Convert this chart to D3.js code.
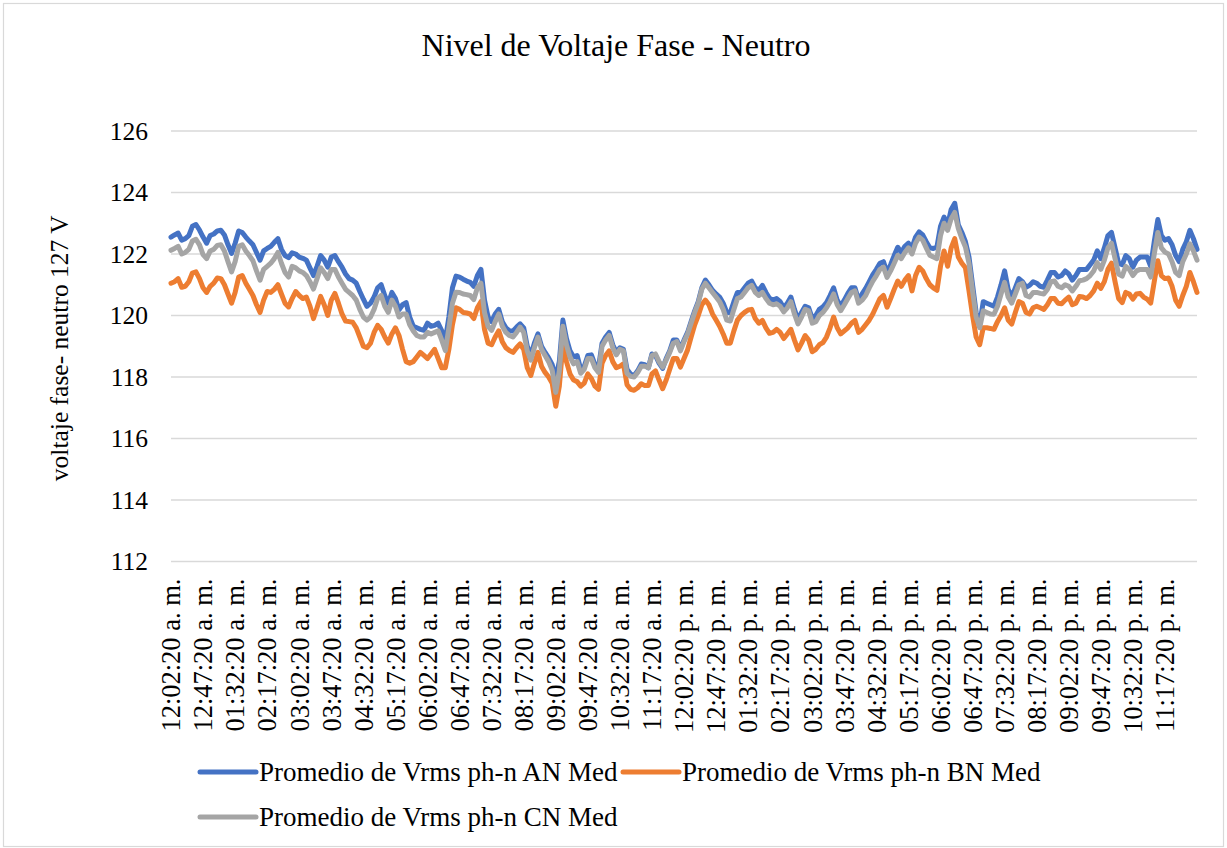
<!DOCTYPE html>
<html><head><meta charset="utf-8">
<script src="https://cdn.jsdelivr.net/npm/d3@7"></script>
<style>
html,body{margin:0;padding:0;background:#fff;}
svg{display:block;font-family:"Liberation Serif","Times New Roman",serif;}
</style></head>
<body>
<svg id="chart" width="1227" height="848"></svg>
<script>
const title = "Nivel de Voltaje Fase - Neutro";
const yTitle = "voltaje fase- neutro 127 V";
const seriesNames = ["Promedio de Vrms ph-n AN Med","Promedio de Vrms ph-n BN Med","Promedio de Vrms ph-n CN Med"];
const seriesColors = ["#4472C4","#ED7D31","#A5A5A5"];
const yTicks = [112,114,116,118,120,122,124,126];
const tickEvery = 9;
const tickLabels = ["12:02:20 a. m.","12:47:20 a. m.","01:32:20 a. m.","02:17:20 a. m.","03:02:20 a. m.","03:47:20 a. m.","04:32:20 a. m.","05:17:20 a. m.","06:02:20 a. m.","06:47:20 a. m.","07:32:20 a. m.","08:17:20 a. m.","09:02:20 a. m.","09:47:20 a. m.","10:32:20 a. m.","11:17:20 a. m.","12:02:20 p. m.","12:47:20 p. m.","01:32:20 p. m.","02:17:20 p. m.","03:02:20 p. m.","03:47:20 p. m.","04:32:20 p. m.","05:17:20 p. m.","06:02:20 p. m.","06:47:20 p. m.","07:32:20 p. m.","08:17:20 p. m.","09:02:20 p. m.","09:47:20 p. m.","10:32:20 p. m.","11:17:20 p. m."];

const AN = [
122.55,122.62,122.68,122.45,122.5,122.6,122.9,122.96,122.78,
122.55,122.35,122.6,122.65,122.75,122.77,122.62,122.3,122.02,
122.35,122.75,122.7,122.55,122.42,122.3,122.05,121.8,122.1,
122.18,122.25,122.38,122.5,122.15,121.95,121.88,122.04,122.0,
121.9,121.86,121.8,121.55,121.3,121.6,121.95,121.8,121.57,
121.9,121.95,121.75,121.57,121.35,121.2,121.15,121.05,120.78,
120.53,120.3,120.4,120.6,120.9,121.0,120.65,120.4,120.75,
120.55,120.18,120.35,120.42,119.95,119.65,119.6,119.55,119.52,
119.75,119.65,119.68,119.75,119.5,119.2,119.95,120.9,121.28,
121.25,121.18,121.12,121.08,120.95,121.3,121.5,120.5,119.95,
119.8,120.05,120.2,119.8,119.6,119.5,119.5,119.62,119.73,
119.6,119.0,118.7,119.1,119.4,119.0,118.8,118.62,118.4,
117.95,118.5,119.85,119.25,118.85,118.65,118.7,118.25,118.35,
118.7,118.72,118.4,118.3,119.1,119.3,119.45,119.05,118.8,
118.95,118.9,118.25,118.1,118.05,118.2,118.42,118.4,118.3,
118.75,118.7,118.45,118.28,118.6,118.85,119.2,119.2,118.92,
119.2,119.45,119.8,120.15,120.45,120.9,121.15,121.0,120.82,
120.7,120.6,120.4,120.1,120.1,120.45,120.75,120.75,120.9,
121.05,121.12,120.9,120.82,120.98,120.75,120.56,120.5,120.55,
120.45,120.25,120.4,120.6,120.2,119.86,120.1,120.3,120.25,
119.9,120.0,120.2,120.28,120.42,120.65,120.9,120.5,120.3,
120.5,120.72,120.9,120.9,120.5,120.7,120.88,121.1,121.33,
121.5,121.7,121.75,121.4,121.65,121.95,122.22,122.05,122.25,
122.35,122.2,122.55,122.72,122.62,122.4,122.2,122.18,122.23,
122.9,123.2,122.93,123.45,123.65,122.95,122.7,122.4,121.9,
121.0,120.1,119.7,120.45,120.4,120.35,120.3,120.6,121.0,
121.45,120.85,120.6,120.9,121.2,121.1,120.92,120.98,121.1,
121.05,120.95,120.92,121.15,121.4,121.4,121.25,121.3,121.45,
121.35,121.15,121.3,121.5,121.5,121.5,121.65,121.8,122.1,
121.85,122.2,122.6,122.7,122.2,121.7,121.65,121.95,121.85,
121.57,121.8,121.9,121.9,121.9,121.6,122.4,123.12,122.6,
122.45,122.5,122.3,121.95,121.75,122.15,122.4,122.77,122.5,
122.15];

const BN = [
121.05,121.1,121.2,120.92,120.95,121.1,121.38,121.42,121.2,
120.9,120.75,120.95,121.05,121.22,121.2,121.0,120.7,120.4,
120.75,121.25,121.3,121.05,120.85,120.65,120.35,120.1,120.5,
120.78,120.75,120.85,121.0,120.7,120.4,120.28,120.55,120.78,
120.65,120.55,120.6,120.3,119.9,120.25,120.62,120.35,120.0,
120.5,120.72,120.4,120.05,119.82,119.8,119.78,119.6,119.3,
119.0,118.95,119.1,119.45,119.68,119.55,119.3,119.1,119.4,
119.6,119.35,118.9,118.5,118.45,118.5,118.65,118.8,118.7,
118.6,118.75,118.9,118.6,118.3,118.3,118.9,119.7,120.25,
120.2,120.1,120.08,120.05,119.9,120.25,120.45,119.55,119.1,
119.05,119.3,119.5,119.15,118.95,118.86,118.8,118.95,119.08,
118.9,118.3,118.05,118.45,118.8,118.35,118.15,118.0,117.8,
117.05,117.7,119.05,118.5,118.1,117.9,117.85,117.7,117.8,
118.1,117.95,117.7,117.6,118.45,118.7,118.85,118.5,118.3,
118.35,118.43,117.75,117.6,117.57,117.65,117.78,117.72,117.72,
118.1,118.2,117.9,117.62,117.9,118.25,118.6,118.6,118.32,
118.6,118.88,119.3,119.7,120.0,120.35,120.5,120.35,120.05,
119.85,119.65,119.4,119.1,119.1,119.5,119.85,120.0,120.1,
120.18,120.2,119.9,119.75,119.84,119.6,119.42,119.45,119.55,
119.45,119.25,119.4,119.55,119.2,118.88,119.1,119.35,119.2,
118.82,118.9,119.05,119.12,119.3,119.6,119.95,119.6,119.4,
119.5,119.6,119.75,119.84,119.45,119.55,119.7,119.85,120.05,
120.3,120.55,120.65,120.27,120.55,120.85,121.12,120.95,121.15,
121.3,120.8,121.3,121.57,121.45,121.2,121.0,120.9,120.82,
121.6,122.1,121.6,122.2,122.5,121.9,121.7,121.55,120.8,
120.0,119.3,119.05,119.6,119.6,119.58,119.55,119.8,120.0,
120.25,119.85,119.72,120.1,120.45,120.4,120.1,120.05,120.25,
120.3,120.25,120.2,120.35,120.55,120.55,120.4,120.38,120.5,
120.6,120.35,120.4,120.62,120.6,120.55,120.65,120.8,121.05,
120.88,121.1,121.5,121.7,121.1,120.55,120.42,120.75,120.7,
120.53,120.7,120.72,120.6,120.53,120.4,121.1,121.78,121.3,
121.2,121.22,120.95,120.5,120.3,120.65,120.95,121.4,121.1,
120.75];

const CN = [
122.12,122.18,122.25,122.0,122.05,122.15,122.42,122.48,122.3,
121.98,121.85,122.1,122.15,122.28,122.3,122.1,121.75,121.42,
121.75,122.25,122.3,122.1,121.95,121.78,121.45,121.15,121.5,
121.6,121.7,121.85,122.05,121.7,121.4,121.25,121.6,121.55,
121.45,121.4,121.3,121.1,120.86,121.2,121.55,121.4,121.2,
121.5,121.5,121.25,121.05,120.85,120.75,120.65,120.5,120.2,
119.95,119.85,119.95,120.2,120.55,120.65,120.3,120.1,120.5,
120.3,119.95,120.05,120.05,119.7,119.5,119.35,119.3,119.3,
119.45,119.4,119.45,119.5,119.2,118.86,119.6,120.4,120.76,
120.75,120.7,120.68,120.65,120.52,120.9,121.05,120.1,119.65,
119.52,119.8,120.05,119.65,119.45,119.35,119.3,119.45,119.62,
119.45,118.85,118.55,118.95,119.3,118.9,118.7,118.5,118.22,
117.5,118.2,119.65,119.05,118.65,118.43,118.5,118.12,118.25,
118.6,118.6,118.3,118.15,119.0,119.2,119.35,118.95,118.72,
118.9,118.85,118.12,118.02,118.0,118.15,118.35,118.35,118.3,
118.7,118.75,118.5,118.32,118.55,118.8,119.1,119.15,118.85,
119.15,119.4,119.75,120.1,120.4,120.85,121.05,120.9,120.75,
120.6,120.45,120.2,119.85,119.82,120.2,120.55,120.6,120.75,
120.9,120.98,120.75,120.65,120.75,120.55,120.4,120.35,120.38,
120.3,120.12,120.25,120.45,120.05,119.73,119.95,120.2,120.15,
119.75,119.8,120.0,120.1,120.25,120.45,120.7,120.35,120.16,
120.35,120.55,120.75,120.8,120.4,120.5,120.65,120.9,121.12,
121.3,121.5,121.57,121.24,121.45,121.7,121.96,121.85,122.05,
122.2,122.0,122.35,122.55,122.45,122.2,121.96,121.9,121.85,
122.6,123.0,122.77,123.15,123.35,122.83,122.5,122.23,121.7,
120.8,119.95,119.6,120.15,120.1,120.05,120.04,120.3,120.7,
121.08,120.6,120.4,120.7,121.0,121.05,120.65,120.6,120.75,
120.75,120.72,120.7,120.85,121.1,121.12,120.95,120.9,121.0,
120.95,120.8,120.95,121.13,121.15,121.2,121.3,121.45,121.72,
121.5,121.8,122.2,122.35,121.85,121.35,121.28,121.6,121.5,
121.3,121.45,121.5,121.5,121.5,121.25,122.0,122.7,122.2,
122.06,122.0,121.75,121.4,121.3,121.75,122.0,122.33,122.1,
121.8];

const seriesValues = [AN, BN, CN];

const svg = d3.select("#chart");
const W = 1227, H = 848;
const plot = {left: 171, right: 1197, top: 131, bottom: 561.5};
const serif = '"Liberation Serif","Times New Roman",serif';

svg.append("rect").attr("x",3.5).attr("y",3.5).attr("width",W-7).attr("height",H-5)
  .attr("fill","#fff").attr("stroke","#d9d9d9").attr("stroke-width",1.2);

const idx = d3.range(AN.length);
const x = d3.scalePoint().domain(idx).range([plot.left, plot.right]);
const y = d3.scaleLinear().domain([112,126]).range([plot.bottom, plot.top]);

// gridlines
svg.append("g").selectAll("line").data(yTicks).join("line")
  .attr("x1",plot.left).attr("x2",plot.right)
  .attr("y1",d=>y(d)).attr("y2",d=>y(d))
  .attr("stroke","#d9d9d9").attr("stroke-width",1.5);

// y axis labels
const yAxis = svg.append("g").attr("transform",`translate(${plot.left},0)`)
  .call(d3.axisLeft(y).tickValues(yTicks).tickSize(0).tickPadding(23).tickFormat(d3.format("d")));
yAxis.select(".domain").remove();
yAxis.selectAll("text").attr("font-size",25.5).attr("fill","#000").attr("font-family",serif);

// x axis labels
const xTickVals = idx.filter(i => i % tickEvery === 0 && i/tickEvery < tickLabels.length);
const xAxis = svg.append("g").attr("transform",`translate(0,${plot.bottom})`)
  .call(d3.axisBottom(x).tickValues(xTickVals).tickSize(0).tickFormat(i => tickLabels[i/tickEvery]));
xAxis.select(".domain").remove();
xAxis.selectAll("text")
  .attr("font-size",26.5).attr("fill","#000").attr("font-family",serif)
  .attr("transform","rotate(-90)")
  .attr("text-anchor","end")
  .attr("x",-17).attr("y",0).attr("dy","0.33em");

// lines
const line = d3.line().x((d,i)=>x(i)).y(d=>y(d));
seriesValues.forEach((vals,k)=>{
  svg.append("path").datum(vals)
    .attr("fill","none").attr("stroke",seriesColors[k]).attr("stroke-width",5)
    .attr("stroke-linejoin","round").attr("stroke-linecap","round")
    .attr("d",line);
});

// title
svg.append("text").attr("x",616).attr("y",56).attr("text-anchor","middle")
  .attr("font-size",32).attr("fill","#000").attr("font-family",serif).text(title);

// y title
svg.append("text").attr("transform",`translate(68,${(plot.top+plot.bottom)/2+2}) rotate(-90)`)
  .attr("text-anchor","middle").attr("font-size",25.5).attr("fill","#000").attr("font-family",serif).text(yTitle);

// legend
const legendItems = [
  {name: seriesNames[0], color: seriesColors[0], lx: 200, ly: 772},
  {name: seriesNames[1], color: seriesColors[1], lx: 623, ly: 772},
  {name: seriesNames[2], color: seriesColors[2], lx: 200, ly: 817}
];
const lg = svg.append("g");
legendItems.forEach(it=>{
  lg.append("line").attr("x1",it.lx).attr("x2",it.lx+56).attr("y1",it.ly).attr("y2",it.ly)
    .attr("stroke",it.color).attr("stroke-width",5).attr("stroke-linecap","round");
  lg.append("text").attr("x",it.lx+59).attr("y",it.ly).attr("dy","0.35em")
    .attr("font-size",27).attr("fill","#000").attr("font-family",serif).text(it.name);
});
</script>
</body></html>
